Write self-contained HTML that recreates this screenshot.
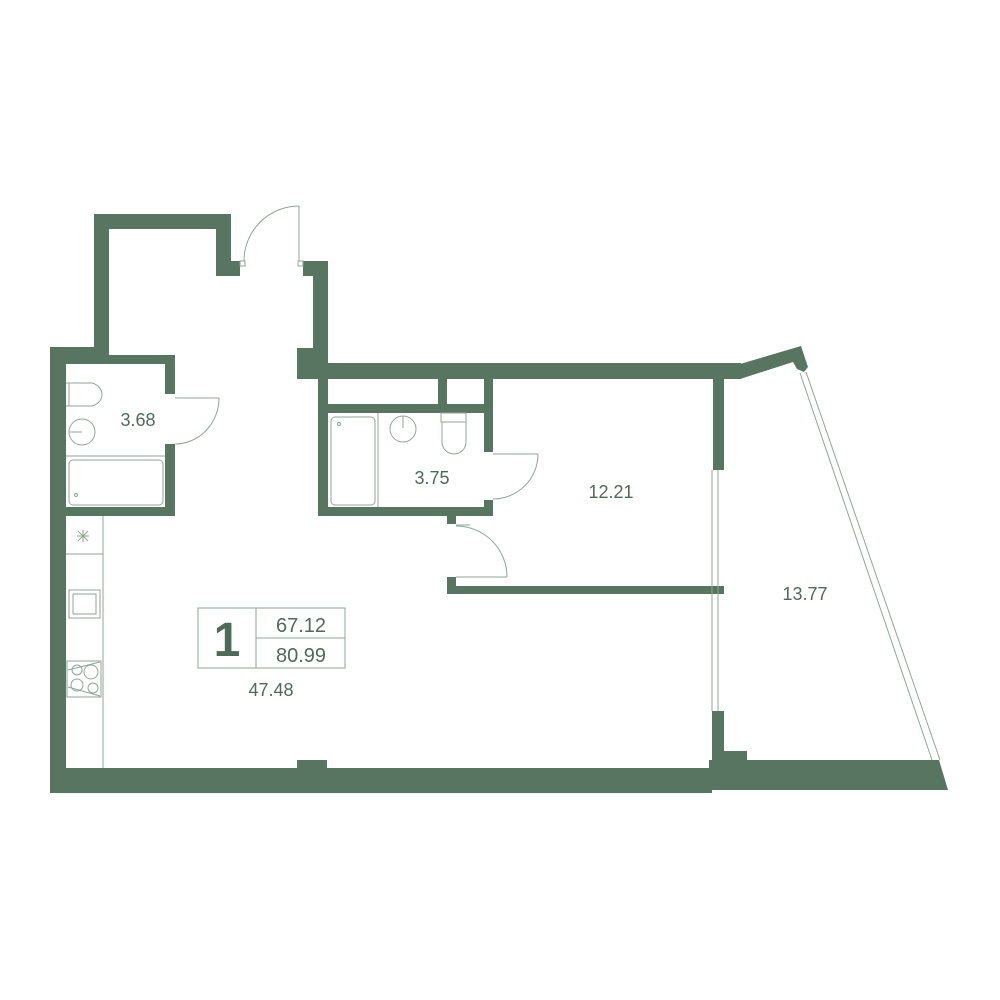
<!DOCTYPE html>
<html><head><meta charset="utf-8"><style>
html,body{margin:0;padding:0;background:#fff;}
svg{display:block;}
text{font-family:"Liberation Sans",Arial,sans-serif;fill:#4f6a58;}
</style></head><body>
<svg width="1000" height="1000" viewBox="0 0 1000 1000" xmlns="http://www.w3.org/2000/svg">
<g fill="#587562">
<rect x="94" y="214" width="137" height="15"/>
<rect x="94" y="214" width="15" height="150"/>
<rect x="216" y="214" width="15" height="62"/>
<rect x="231" y="261" width="9" height="15"/>
<rect x="303" y="261" width="25" height="15"/>
<rect x="313" y="261" width="15" height="118"/>
<rect x="297" y="348" width="31" height="31"/>
<rect x="318" y="363" width="423" height="16"/>
<polygon points="740,364 801,346 808,367 804,372 797,369 793,362 740,379"/>
<rect x="50" y="347" width="16" height="446"/>
<rect x="50" y="347" width="59" height="17"/>
<rect x="50" y="355" width="125" height="9"/>
<rect x="165" y="355" width="10" height="39"/>
<rect x="165" y="444" width="10" height="72"/>
<rect x="66" y="507" width="109" height="9"/>
<rect x="318" y="379" width="10" height="137"/>
<rect x="318" y="507" width="175" height="9"/>
<rect x="328" y="404" width="157" height="9"/>
<rect x="438" y="379" width="9" height="25"/>
<rect x="484" y="379" width="9" height="73"/>
<rect x="484" y="500" width="9" height="16"/>
<rect x="447" y="516" width="9" height="8"/>
<rect x="447" y="586" width="277" height="8"/>
<rect x="447" y="577" width="9" height="17"/>
<rect x="713" y="379" width="11" height="91"/>
<rect x="712" y="711" width="12" height="60"/>
<rect x="724" y="751" width="23" height="15"/>
<rect x="50" y="768" width="662" height="25"/>
<rect x="297" y="760" width="30" height="33"/>
<polygon points="709,760 939,760 948,790 709,790"/>
</g>
<g fill="none" stroke="#8fa596" stroke-width="1">
<line x1="299" y1="206" x2="299" y2="261"/>
<path d="M299,206 A55,55 0 0 0 244,261"/>
<rect x="240" y="261" width="5" height="5" fill="#fff"/>
<rect x="298" y="261" width="5" height="5" fill="#fff"/>
<line x1="175" y1="398" x2="219" y2="398"/>
<path d="M219,398 A44,46 0 0 1 175,444"/>
<line x1="493" y1="454" x2="538" y2="454"/>
<path d="M538,454 A45,45 0 0 1 493,499"/>
<line x1="456" y1="525" x2="470" y2="525"/>
<path d="M456,526 A51,51 0 0 1 507,577"/>
<line x1="456" y1="577" x2="507" y2="577"/>
<line x1="712" y1="470" x2="712" y2="711"/>
<line x1="718" y1="470" x2="718" y2="711"/>
<line x1="800" y1="373" x2="932" y2="760"/>
<line x1="806" y1="372" x2="940" y2="760"/>
<line x1="103" y1="516" x2="103" y2="768"/>
<line x1="66" y1="554" x2="103" y2="554"/>
<line x1="77" y1="536" x2="89" y2="536"/>
<line x1="83" y1="530" x2="83" y2="542"/>
<line x1="78" y1="531" x2="88" y2="541"/>
<line x1="88" y1="531" x2="78" y2="541"/>
<rect x="69" y="590" width="31" height="28"/>
<rect x="73" y="594" width="23" height="20"/>
<rect x="67" y="661" width="34" height="36"/>
<circle cx="77" cy="670" r="5"/><circle cx="91" cy="672" r="7"/>
<circle cx="77" cy="685" r="6"/><circle cx="93" cy="688" r="5"/>
<line x1="68" y1="670" x2="100" y2="662"/><line x1="68" y1="687" x2="100" y2="696"/>
<rect x="69" y="460" width="94" height="45" rx="4"/>
<circle cx="76" cy="495" r="1.5"/>
<path d="M66,383 H92 A14,12 0 0 1 92,406 H66"/>
<path d="M69,383 V406"/>
<circle cx="82" cy="432" r="13"/>
<line x1="82" y1="432" x2="70" y2="432"/>
<line x1="66" y1="456" x2="165" y2="456"/>
<rect x="331" y="417" width="44" height="88" rx="4"/>
<circle cx="339" cy="424" r="1.5"/>
<line x1="378" y1="413" x2="378" y2="507"/>
<circle cx="403" cy="429" r="13"/>
<line x1="403" y1="416" x2="403" y2="428"/>
<rect x="441" y="413" width="25" height="9"/>
<path d="M442,422 V442 A12,12 0 0 0 466,442 V422"/>
<rect x="198" y="608" width="147" height="60"/>
<line x1="256" y1="608" x2="256" y2="668"/>
<line x1="256" y1="638" x2="345" y2="638"/>
</g>
<text x="138" y="426" font-size="18" text-anchor="middle">3.68</text>
<text x="432" y="484" font-size="18" text-anchor="middle">3.75</text>
<text x="611" y="498" font-size="18" text-anchor="middle">12.21</text>
<text x="805" y="600" font-size="18" text-anchor="middle">13.77</text>
<text x="227" y="656" font-size="48" font-weight="bold" text-anchor="middle">1</text>
<text x="301" y="632" font-size="20" text-anchor="middle">67.12</text>
<text x="301" y="662" font-size="20" text-anchor="middle">80.99</text>
<text x="271" y="696" font-size="18" text-anchor="middle">47.48</text>
</svg>
</body></html>
